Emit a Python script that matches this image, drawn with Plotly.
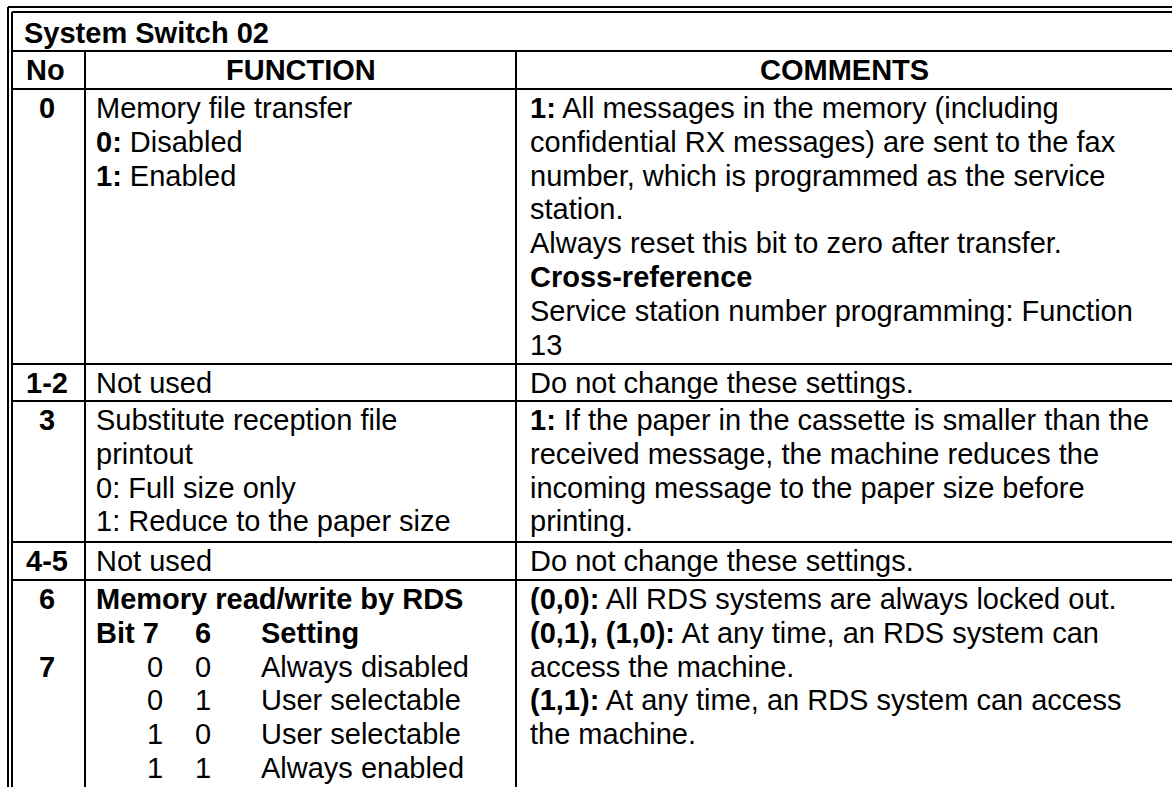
import plotly.graph_objects as go

# ---------------- content ----------------
title = "System Switch 02"
headers = ["No", "FUNCTION", "COMMENTS"]

row_no = [["0"], ["1-2"], ["3"], ["4-5"], ["6", "", "7"]]

row_function = [
    ["Memory file transfer", "<b>0:</b> Disabled", "<b>1:</b> Enabled"],
    ["Not used"],
    ["Substitute reception file", "printout", "0: Full size only", "1: Reduce to the paper size"],
    ["Not used"],
    ["<b>Memory read/write by RDS</b>"],
]

row_comments = [
    ["<b>1:</b> All messages in the memory (including",
     "confidential RX messages) are sent to the fax",
     "number, which is programmed as the service",
     "station.",
     "Always reset this bit to zero after transfer.",
     "<b>Cross-reference</b>",
     "Service station number programming: Function",
     "13"],
    ["Do not change these settings."],
    ["<b>1:</b> If the paper in the cassette is smaller than the",
     "received message, the machine reduces the",
     "incoming message to the paper size before",
     "printing."],
    ["Do not change these settings."],
    ["<b>(0,0):</b> All RDS systems are always locked out.",
     "<b>(0,1), (1,0):</b> At any time, an RDS system can",
     "access the machine.",
     "<b>(1,1):</b> At any time, an RDS system can access",
     "the machine."],
]

bit_header = ["Bit 7", "6", "Setting"]
bit7 = ["0", "0", "1", "1"]
bit6 = ["0", "1", "0", "1"]
bit_setting = ["Always disabled", "User selectable", "User selectable", "Always enabled"]

# ---------------- layout constants ----------------
W, H = 1172, 787
FONT = "Liberation Sans, Arial, sans-serif"
FS = 29
LW = 2
LH = 33.8          # line spacing
FIRST = 19         # first text line centre below row top

X_LEFT1, X_LEFT2 = 8, 12
Y_TOP1, Y_TOP2 = 7, 12
X_COL1, X_COL2 = 85, 516
Y_TITLE_BOT, Y_HEAD_BOT = 51, 89
row_tops = [89, 364, 401, 542, 580]
row_bottoms = [364, 401, 542, 580]

NO_CX = 47
FUNC_X = 96
COMM_X = 530
BIT7_CX, BIT6_CX, SET_X = 155, 203, 261

fig = go.Figure()
shapes = []


def hline(y, x0, x1):
    shapes.append(dict(type="line", xref="x", yref="y", x0=x0, x1=x1, y0=y, y1=y,
                       line=dict(color="black", width=LW)))


def vline(x, y0, y1):
    shapes.append(dict(type="line", xref="x", yref="y", x0=x, x1=x, y0=y0, y1=y1,
                       line=dict(color="black", width=LW)))


# double outer border (top + left)
hline(Y_TOP1, X_LEFT1, W + 5)
hline(Y_TOP2, X_LEFT2, W + 5)
vline(X_LEFT1, Y_TOP1, H + 5)
vline(X_LEFT2, Y_TOP2, H + 5)
# header separators
hline(Y_TITLE_BOT, X_LEFT2, W + 5)
hline(Y_HEAD_BOT, X_LEFT2, W + 5)
for yb in row_bottoms:
    hline(yb, X_LEFT2, W + 5)
vline(X_COL1, Y_TITLE_BOT, H + 5)
vline(X_COL2, Y_TITLE_BOT, H + 5)

annotations = []


def txt(x, y, s, anchor="left", bold=False):
    annotations.append(dict(
        x=x, y=y, xref="x", yref="y", text=("<b>%s</b>" % s) if bold else s,
        showarrow=False, xanchor=anchor, yanchor="middle",
        font=dict(family=FONT, size=FS, color="black"),
        borderpad=0, borderwidth=0))


# title and headers
txt(24, (Y_TOP2 + Y_TITLE_BOT) / 2 + 1, title, bold=True)
hc = (Y_TITLE_BOT + Y_HEAD_BOT) / 2
txt(NO_CX - 2, hc, headers[0], "center", True)
txt((X_COL1 + X_COL2) / 2, hc, headers[1], "center", True)
txt((X_COL2 + W) / 2, hc, headers[2], "center", True)

for r, top in enumerate(row_tops):
    for i, s in enumerate(row_no[r]):
        if s:
            txt(NO_CX, top + FIRST + i * LH, s, "center", True)
    for i, s in enumerate(row_function[r]):
        txt(FUNC_X, top + FIRST + i * LH, s)
    for i, s in enumerate(row_comments[r]):
        txt(COMM_X, top + FIRST + i * LH, s)

# bit table in last row
top = row_tops[-1]
yb = top + FIRST + LH
txt(FUNC_X, yb, bit_header[0], bold=True)
txt(BIT6_CX, yb, bit_header[1], "center", True)
txt(SET_X, yb, bit_header[2], bold=True)
for i in range(len(bit7)):
    y = top + FIRST + (i + 2) * LH
    txt(BIT7_CX, y, bit7[i], "center")
    txt(BIT6_CX, y, bit6[i], "center")
    txt(SET_X, y, bit_setting[i])

fig.update_layout(
    width=W, height=H,
    margin=dict(l=0, r=0, t=0, b=0),
    paper_bgcolor="white", plot_bgcolor="white",
    xaxis=dict(range=[0, W], visible=False, fixedrange=True),
    yaxis=dict(range=[H, 0], visible=False, fixedrange=True),
    shapes=shapes, annotations=annotations,
    showlegend=False,
)

fig.write_html(
    "out.html",
    config={"displayModeBar": False},
    post_script="document.body.style.margin='0';document.body.style.overflow='hidden';",
)
